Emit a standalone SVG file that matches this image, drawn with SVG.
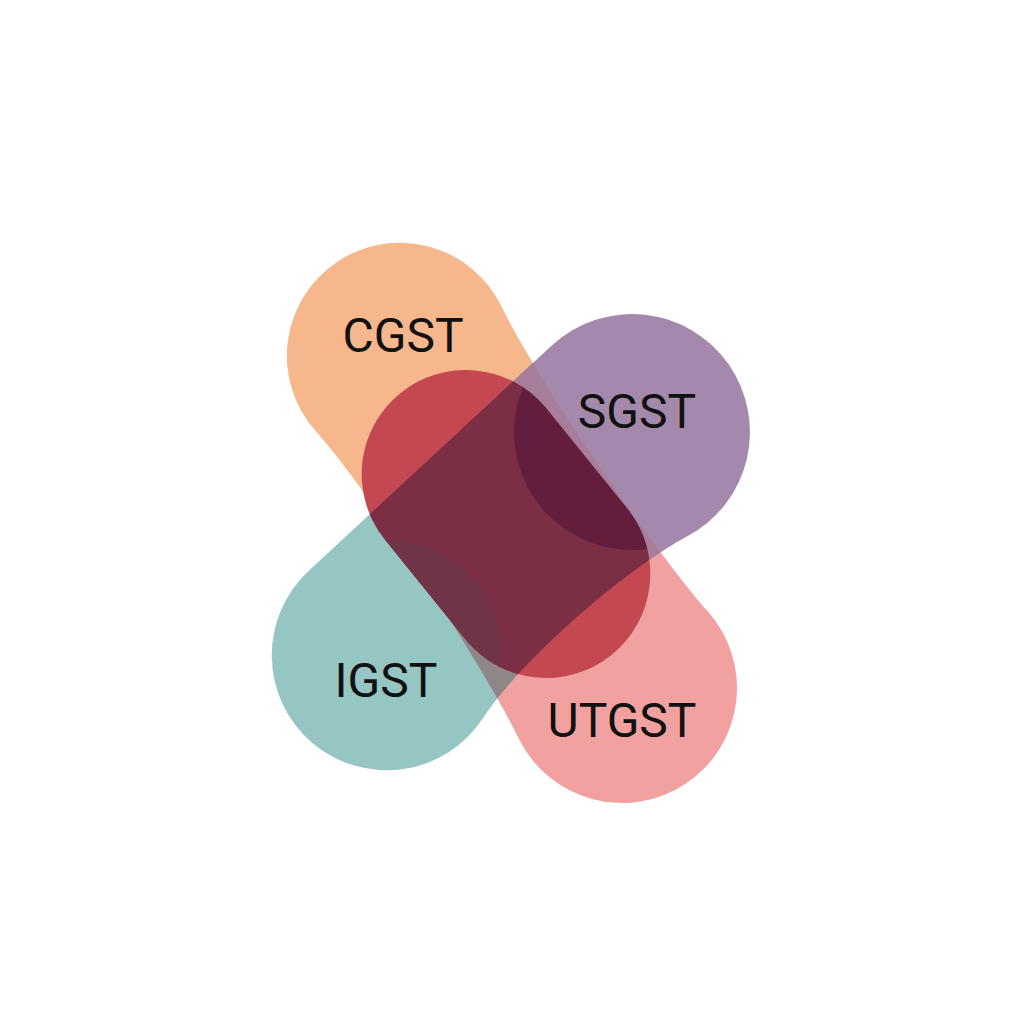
<svg xmlns="http://www.w3.org/2000/svg" xmlns:xlink="http://www.w3.org/1999/xlink" width="1024" height="1024" viewBox="0 0 1024 1024">
<style>
.lbl{font-family:Roboto,"Liberation Sans",sans-serif;font-size:48px;font-weight:400;fill:#111;text-anchor:middle}
</style>
<defs>
<path id="bandA" d="M501.7,306.8 C536.5,378.8 654.3,551.7 707.7,611.3 A115,115 0 1 1 518.5,738.1 C483.7,666.1 369.2,490.9 315.8,431.3 A113,113 0 1 1 501.7,306.8 Z"/>
<path id="bandB" d="M309.6,570 L552.6,344.7 A118,118 0 1 1 687.4,536.2 C625.6,569 521.6,658.9 483.4,717.6 A115,115 0 1 1 309.6,570 Z"/>
<path id="red" d="M544.9,406.7 L628.9,510.7 A104,104 0 0 1 467.1,641.3 L383.1,537.3 A104,104 0 0 1 544.9,406.7 Z"/>
<clipPath id="clipA"><use xlink:href="#bandA"/></clipPath>
<clipPath id="clipRed"><use xlink:href="#red"/></clipPath>
<linearGradient id="gradA" gradientUnits="userSpaceOnUse" x1="400" y1="356" x2="622" y2="688">
<stop offset="0" stop-color="#f7b78d"/><stop offset="0.5" stop-color="#f7b78d"/><stop offset="0.5" stop-color="#f1a2a0"/><stop offset="1" stop-color="#f1a2a0"/>
</linearGradient>
<linearGradient id="gradB" gradientUnits="userSpaceOnUse" x1="387" y1="655" x2="632" y2="432">
<stop offset="0" stop-color="#96c6c3"/><stop offset="0.5" stop-color="#96c6c3"/><stop offset="0.5" stop-color="#a589ad"/><stop offset="1" stop-color="#a589ad"/>
</linearGradient>
<linearGradient id="gradAB" gradientUnits="userSpaceOnUse" x1="387" y1="655" x2="632" y2="432">
<stop offset="0" stop-color="#8f8787"/><stop offset="0.5" stop-color="#8f8787"/><stop offset="0.5" stop-color="#a77e9a"/><stop offset="1" stop-color="#a77e9a"/>
</linearGradient>
</defs>
<rect width="1024" height="1024" fill="#ffffff"/>
<g id="shapes">
<use xlink:href="#bandA" fill="url(#gradA)"/>
<use xlink:href="#bandB" fill="url(#gradB)"/>
<g clip-path="url(#clipA)"><use xlink:href="#bandB" fill="url(#gradAB)"/></g>
<use xlink:href="#red" fill="#c34852"/>
<g clip-path="url(#clipRed)">
<use xlink:href="#bandB" fill="#7c2e45"/>
<circle cx="632" cy="432" r="118" fill="#631e3d"/>
<circle cx="387" cy="655" r="115" fill="#6f3446"/>
</g>
</g>
<g id="cgst"><text class="lbl" x="403" y="352">CGST</text></g>
<g id="sgst"><text class="lbl" x="637" y="428">SGST</text></g>
<g id="igst"><text class="lbl" x="386" y="697">IGST</text></g>
<g id="utgst"><text class="lbl" x="622" y="737">UTGST</text></g>
</svg>
